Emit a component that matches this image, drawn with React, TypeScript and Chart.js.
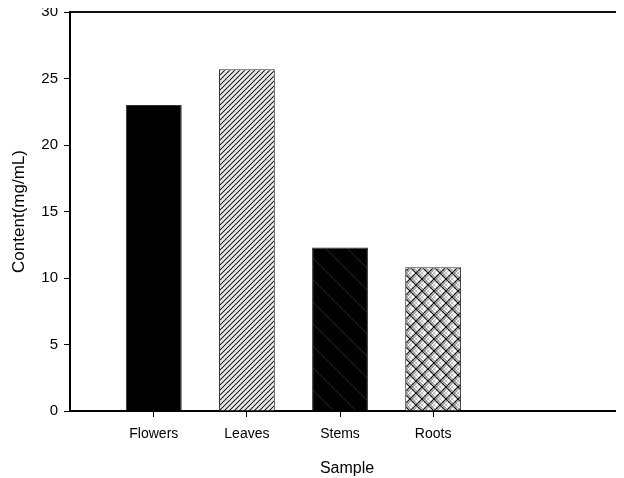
import { useEffect, useRef } from "react";
import { Chart, registerables } from "chart.js";

Chart.register(...registerables);

const categories = ["Flowers", "Leaves", "Stems", "Roots"];
const categoryPositions = [1, 2, 3, 4];
const contentValues = [23.0, 25.7, 12.3, 10.8];
const yMin = 0;
const yMax = 30;
const yStep = 5;
const xTitle = "Sample";
const yTitle = "Content(mg/mL)";

function makeTile(size: number, draw: (ctx: CanvasRenderingContext2D, s: number) => void) {
  const c = document.createElement("canvas");
  c.width = size;
  c.height = size;
  const ctx = c.getContext("2d") as CanvasRenderingContext2D;
  draw(ctx, size);
  return c;
}

function slash(ctx: CanvasRenderingContext2D, s: number, off: number, color: string, w: number) {
  ctx.strokeStyle = color;
  ctx.lineWidth = w;
  for (let k = -2; k <= 3; k++) {
    const c = off + k * s;
    ctx.beginPath();
    ctx.moveTo(c - 2 * s, 2 * s);
    ctx.lineTo(c + 2 * s, -2 * s);
    ctx.stroke();
  }
}

function backslash(ctx: CanvasRenderingContext2D, s: number, off: number, color: string, w: number) {
  ctx.strokeStyle = color;
  ctx.lineWidth = w;
  for (let k = -3; k <= 3; k++) {
    const c = off + k * s;
    ctx.beginPath();
    ctx.moveTo(c - 2 * s, -2 * s);
    ctx.lineTo(c + 2 * s, 2 * s);
    ctx.stroke();
  }
}

const topBorder = {
  id: "topBorder",
  afterDraw(chart: any) {
    const { ctx, chartArea } = chart;
    ctx.save();
    ctx.strokeStyle = "#111";
    ctx.lineWidth = 2;
    ctx.beginPath();
    ctx.moveTo(chartArea.left, chartArea.top);
    ctx.lineTo(chart.width, chartArea.top);
    ctx.stroke();
    ctx.restore();
  },
};

export default function App() {
  const ref = useRef<HTMLCanvasElement | null>(null);

  useEffect(() => {
    const canvas = ref.current;
    if (!canvas) return;
    const ctx2 = canvas.getContext("2d") as CanvasRenderingContext2D;

    const leaves = ctx2.createPattern(
      makeTile(5, (c, s) => {
        c.fillStyle = "#fafafa";
        c.fillRect(0, 0, s, s);
        slash(c, s, 2.5, "#c8c8c8", 0.6);
        slash(c, s, 0, "#151515", 1.1);
      }),
      "repeat"
    );
    const stems = ctx2.createPattern(
      makeTile(22, (c, s) => {
        c.fillStyle = "#000";
        c.fillRect(0, 0, s, s);
        backslash(c, s, 0, "#262626", 1);
      }),
      "repeat"
    );
    const roots = ctx2.createPattern(
      makeTile(12, (c, s) => {
        c.fillStyle = "#f6f6f6";
        c.fillRect(0, 0, s, s);
        slash(c, s, 6, "#b0b0b0", 0.8);
        backslash(c, s, 6, "#b0b0b0", 0.8);
        slash(c, s, 0, "#111", 1.2);
        backslash(c, s, 0, "#111", 1.2);
        slash(c, s, 2.5, "#555", 0.9);
        backslash(c, s, 2.5, "#555", 0.9);
      }),
      "repeat"
    );

    const fills: any[] = ["#000", leaves, stems, roots];

    const chart = new Chart(canvas, {
      type: "bar",
      data: {
        datasets: [
          {
            data: categoryPositions.map((x, i) => ({ x, y: contentValues[i] })),
            backgroundColor: fills,
            borderColor: "#333",
            borderWidth: 1,
            barPercentage: 0.6,
            categoryPercentage: 1,
          },
        ],
      },
      options: {
        responsive: false,
        animation: false,
        events: [],
        layout: { padding: 0 },
        plugins: {
          legend: { display: false },
          tooltip: { enabled: false },
        },
        scales: {
          x: {
            type: "linear",
            min: 0.1,
            max: 6.05,
            offset: false,
            afterBuildTicks: (scale: any) => {
              scale.ticks = categoryPositions.map((v) => ({ value: v }));
            },
            ticks: {
              color: "#000",
              padding: 9,
              autoSkip: false,
              maxRotation: 0,
              font: { family: "'Liberation Sans', Arial, sans-serif", size: 14 },
              callback: (v: any) => categories[categoryPositions.indexOf(Number(v))] ?? "",
            },
            grid: {
              display: true,
              offset: false,
              drawOnChartArea: false,
              tickLength: 6,
              tickColor: "#000",
              tickWidth: 1,
            },
            border: { display: true, color: "#000", width: 2 },
            title: {
              display: true,
              text: xTitle,
              color: "#000",
              font: { family: "'Liberation Sans', Arial, sans-serif", size: 16 },
              padding: { top: 7, bottom: 0 },
            },
          },
          y: {
            type: "linear",
            min: yMin,
            max: yMax,
            afterFit: (scale: any) => {
              scale.width = 62;
            },
            ticks: {
              stepSize: yStep,
              color: "#000",
              padding: 6,
              font: { family: "'Liberation Sans', Arial, sans-serif", size: 15 },
            },
            grid: {
              display: true,
              drawOnChartArea: false,
              tickLength: 6,
              tickColor: "#000",
              tickWidth: 1,
            },
            border: { display: true, color: "#000", width: 2 },
            title: {
              display: true,
              text: yTitle,
              color: "#000",
              font: { family: "'Liberation Sans', Arial, sans-serif", size: 17 },
              padding: { top: 1, bottom: 0 },
            },
          },
        },
      },
      plugins: [topBorder],
    });

    return () => chart.destroy();
  }, []);

  return (
    <canvas
      ref={ref}
      width={616}
      height={481}
      style={{ display: "block", width: 616, height: 481, marginTop: -11 }}
    />
  );
}
